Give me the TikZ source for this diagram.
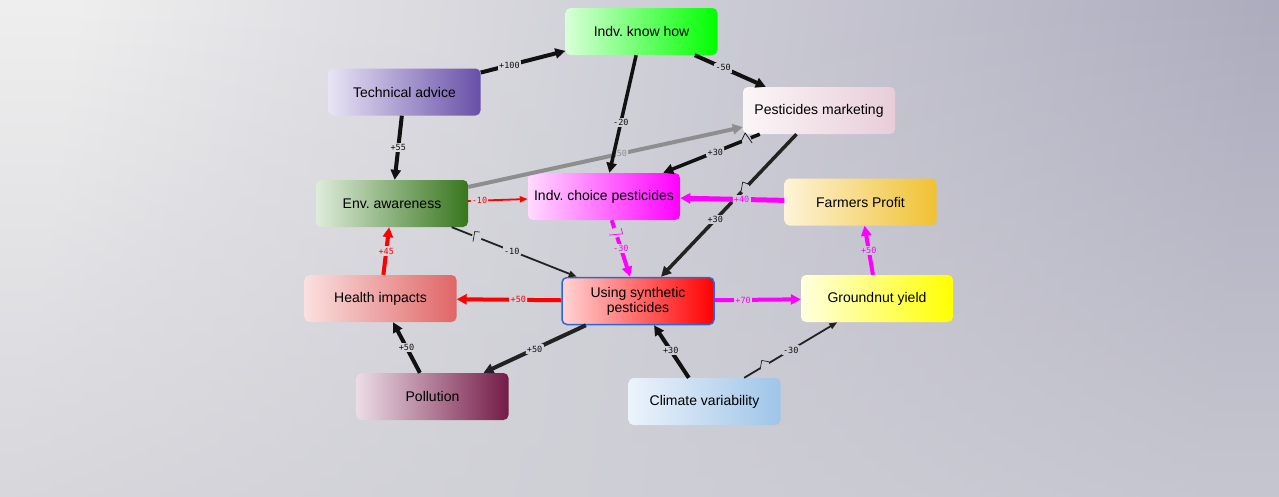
\documentclass[tikz,border=0pt]{standalone}
\usepackage{fontspec}
\setmainfont{Liberation Sans}
\newfontfamily\weightfont{DejaVu Sans Mono}
\usetikzlibrary{arrows.meta,fadings}
\definecolor{bgleft}{HTML}{EFEFEF}
\definecolor{bgright}{HTML}{ADACBE}
\definecolor{bgbottom}{HTML}{CFCFD6}
\definecolor{linkdark}{HTML}{111111}
\definecolor{linkgrey}{HTML}{222222}
\definecolor{linkgray}{HTML}{8E8E8E}
\definecolor{linkmag}{HTML}{FF00FF}
\definecolor{linkred}{HTML}{FF0000}
\definecolor{usingborder}{HTML}{2B68D6}
% node colours, light end / full end
\definecolor{knowA}{HTML}{D9FFD9}   \definecolor{knowB}{HTML}{00FF00}
\definecolor{techA}{HTML}{E8E4F5}   \definecolor{techB}{HTML}{6850A8}
\definecolor{markA}{HTML}{FBF6F8}   \definecolor{markB}{HTML}{E8CDD8}
\definecolor{envA}{HTML}{DEECDA}    \definecolor{envB}{HTML}{38761E}
\definecolor{choiceA}{HTML}{FFDAFF} \definecolor{choiceB}{HTML}{FF00FF}
\definecolor{profitA}{HTML}{FDF4D8} \definecolor{profitB}{HTML}{F0C132}
\definecolor{healthA}{HTML}{FAE0DF} \definecolor{healthB}{HTML}{E06666}
\definecolor{usingA}{HTML}{FFD4D4}  \definecolor{usingB}{HTML}{FF0000}
\definecolor{yieldA}{HTML}{FFFFE0}  \definecolor{yieldB}{HTML}{FFFF00}
\definecolor{pollA}{HTML}{ECDCE6}   \definecolor{pollB}{HTML}{741B47}
\definecolor{climA}{HTML}{ECF3FB}   \definecolor{climB}{HTML}{9FC5E8}
\tikzfading[name=bgfade, top color=transparent!100, bottom color=transparent!25]
% the grey backdrop, also repainted behind each weight and each hop
\newcommand\backdrop{%
  \shade[left color=bgleft, right color=bgright, shading angle=82] (bgNW) rectangle (bgSE);
  \fill[bgbottom, path fading=bgfade] (bgNW) rectangle (bgSE);}
\tikzset{
      factorbox/.style 2 args={
        rounded corners=5pt,
        left color=#1,
        right color=#2,
        minimum width=152pt,
        minimum height=47pt,
        inner sep=2pt,
        align=center,
        font=\fontsize{14}{15}\selectfont
      },
      link/.style={
        draw=#1,
        line width=4pt,
        -{Triangle[length=10pt,width=10pt]}
      },
      thinlink/.style={
        draw=#1,
        line width=1.8pt,
        -{Triangle[length=8pt,width=6pt]}
      },
      weight/.style={
        font=\weightfont\fontsize{8.5}{9}\selectfont,
        text=#1,
        fill=bgbottom,
        path picture={\backdrop},
        inner sep=1pt
      },
      hopgap/.style={
        circle,
        minimum size=10pt,
        inner sep=0pt,
        fill=bgbottom,
        path picture={\backdrop}
      },
      hopline/.style={draw=#1, line width=0.7pt}
    }

\begin{document}
\frenchspacing
\begin{tikzpicture}[x=1pt,y=-1pt]
    \useasboundingbox (0,0) rectangle (1279,496);
    \coordinate (bgNW) at (-3,-3);
    \coordinate (bgSE) at (1282,499);
    \backdrop
    % factors
    \node[factorbox={knowA}{knowB}] (knowhow) at (641.5,31.5) {Indv. know how};
    \node[factorbox={techA}{techB}] (techadv) at (404.5,92) {Technical advice};
    \node[factorbox={markA}{markB}] (marketing) at (819,110.5) {Pesticides marketing};
    \node[factorbox={envA}{envB}] (envaware) at (392,203.5) {Env. awareness};
    \node[factorbox={choiceA}{choiceB}] (choice) at (604,196.5) {Indv. choice pesticides};
    \node[factorbox={profitA}{profitB}] (profit) at (860.5,202) {Farmers Profit};
    \node[factorbox={healthA}{healthB}] (health) at (380.5,298.5) {Health impacts};
    \node[factorbox={usingA}{usingB}, draw=usingborder, line width=1.5pt] (using) at (638,301) {Using synthetic\\pesticides};
    \node[factorbox={yieldA}{yieldB}] (yield) at (877,298.5) {Groundnut yield};
    \node[factorbox={pollA}{pollB}] (pollution) at (432.5,396.5) {Pollution};
    \node[factorbox={climA}{climB}] (climate) at (704.5,401.5) {Climate variability};
    % links
    \draw[link=linkgray] (envaware) -- node[weight=linkgray, pos=0.56] {50} (marketing);
    \draw[link=linkdark] (techadv) -- node[weight=linkdark, pos=0.34] {+100} (knowhow);
    \draw[link=linkdark] (knowhow) -- node[weight=linkdark, pos=0.4] {-50} (marketing);
    \draw[link=linkdark, line width=3.5pt] (knowhow) -- node[weight=linkdark, pos=0.57] {-20} (choice);
    \draw[link=linkdark] (techadv) -- node[weight=linkdark] {+55} (envaware);
    \draw[link=linkdark, line width=3.5pt] (marketing) -- node[hopgap, pos=0.14] (hop1) {} node[weight=linkdark, pos=0.46] {+30} (choice);
    \draw[link=linkgrey, line width=3.5pt] (marketing) -- node[hopgap, pos=0.38] (hop2) {} node[weight=linkdark, pos=0.6] {+30} (using);
    \draw[link=linkmag, line width=5pt] (profit) -- node[weight=linkmag, pos=0.41] {+40} (choice);
    \draw[thinlink=linkgrey] (envaware) -- node[hopgap, pos=0.2] (hop3) {} node[weight=linkdark, pos=0.48] {-10} (using);
    \draw[thinlink=linkred] (envaware) -- node[weight=linkred, pos=0.19] {-10} (choice);
    \draw[link=linkmag] (choice) -- node[hopgap, pos=0.22] (hop4) {} node[weight=linkmag] {-30} (using);
    \draw[link=linkred] (health) -- node[weight=linkred] {+45} (envaware);
    \draw[link=linkred] (using) -- node[weight=linkred, pos=0.41] {+50} (health);
    \draw[link=linkmag] (using) -- node[weight=linkmag, pos=0.33] {+70} (yield);
    \draw[link=linkmag] (yield) -- node[weight=linkmag] {+50} (profit);
    \draw[link=linkgrey] (using) -- node[weight=linkdark] {+50} (pollution);
    \draw[link=linkdark] (pollution) -- node[weight=linkdark] {+50} (health);
    \draw[link=linkdark] (climate) -- node[weight=linkdark, pos=0.52] {+30} (using);
    \draw[thinlink=linkgrey] (climate) -- node[hopgap, pos=0.22] (hop5) {} node[weight=linkdark] {-30} (yield);
    % line hops
    \draw[hopline=linkdark] (hop1.210) -- (hop1.100) -- (hop1.-30);
    \draw[hopline=linkgrey] (hop2.230) -- (hop2.110) -- (hop2.30);
    \draw[hopline=linkgrey] (hop3.230) -- (hop3.110) -- (hop3.60);
    \draw[hopline=linkmag] (hop4.200) -- (hop4.-10) -- (hop4.40);
    \draw[hopline=linkgrey] (hop5.220) -- (hop5.120) -- (hop5.40);
    \end{tikzpicture}
\end{document}
